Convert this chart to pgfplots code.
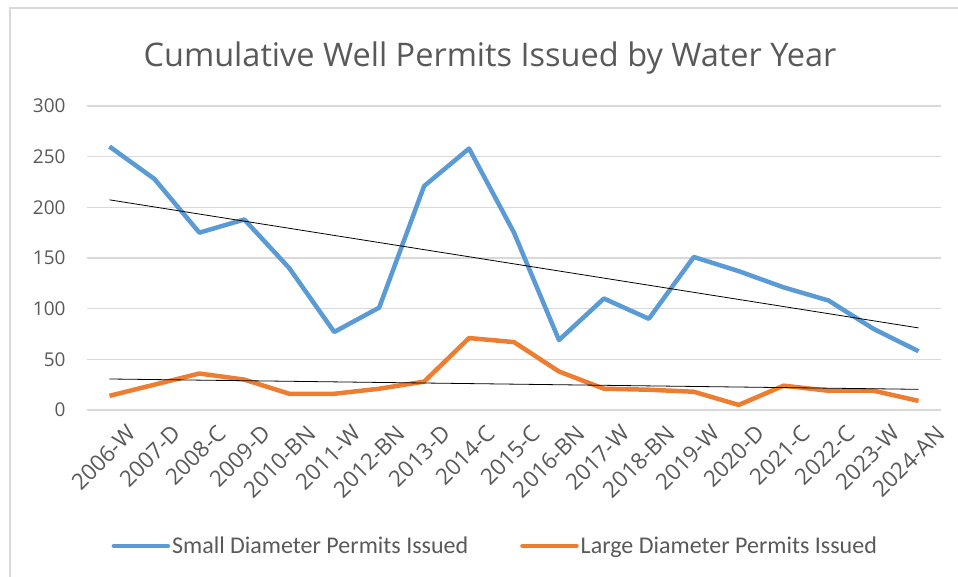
\documentclass[border=0pt]{standalone}
\usepackage{pgfplots}
\pgfplotsset{compat=1.18}
\usepackage{fontspec}
\setmainfont{Open Sans}
\newfontfamily\carlito{Carlito}
\definecolor{sblue}{HTML}{5B9BD5}
\definecolor{sorange}{HTML}{ED7D31}
\definecolor{gridgray}{HTML}{D9D9D9}
\definecolor{txtgray}{HTML}{595959}
\begin{document}
\begin{tikzpicture}[x=1bp,y=1bp]
\path[use as bounding box] (-87,-167) rectangle (871,410);
\draw[gridgray, line width=1.5bp] (-77,402) rectangle (890,-190);
\node[txtgray, font=\fontsize{32.5bp}{38bp}\selectfont] at (403,352) {Cumulative Well Permits Issued by Water Year};
\begin{axis}[
  at={(0,0)}, anchor=south west,
  scale only axis, width=854bp, height=304bp,
  xmin=-0.5, xmax=18.5, ymin=0, ymax=300,
  axis x line*=bottom, axis y line*=left,
  axis line style={draw=none},
  ymajorgrids, grid style={gridgray, line width=1.5bp},
  ytick={0,50,...,300},
  xtick={0,...,18},
  xticklabels={2006-W,2007-D,2008-C,2009-D,2010-BN,2011-W,2012-BN,2013-D,2014-C,2015-C,2016-BN,2017-W,2018-BN,2019-W,2020-D,2021-C,2022-C,2023-W,2024-AN},
  major tick length=0pt,
  /pgf/number format/assume math mode=true,
  yticklabel style={txtgray, font=\fontsize{19bp}{22bp}\selectfont, anchor=east, xshift=-18bp},
  xticklabel style={txtgray, font=\fontsize{22.5bp}{26bp}\selectfont, rotate=45, anchor=north east, inner sep=1bp, xshift=3bp, yshift=-20bp},
  legend style={at={(0.478,-0.447)}, anchor=center, draw=none, fill=none,
    legend columns=2, font=\carlito\fontsize{24bp}{28bp}\selectfont, text=txtgray,
    /tikz/every even column/.append style={column sep=50bp},
    inner sep=0pt, row sep=0pt},
  legend image code/.code={\draw[#1, line width=4.5bp, line cap=round] (0bp,0bp) -- (54bp,0bp);},
]
\addplot[sblue, line width=4.5bp, line join=round] coordinates {
(0,260)(1,228)(2,175)(3,188)(4,140)(5,77)(6,101)(7,221)(8,258)(9,175)(10,69)(11,110)(12,90)(13,151)(14,137)(15,121)(16,108)(17,80)(18,58)};
\addlegendentry{Small Diameter Permits Issued}
\addplot[sorange, line width=4.5bp, line join=round] coordinates {
(0,14)(1,25)(2,36)(3,30)(4,16)(5,16)(6,21)(7,28)(8,71)(9,67)(10,38)(11,21)(12,20)(13,18)(14,5)(15,24)(16,19)(17,19)(18,9)};
\addlegendentry{Large Diameter Permits Issued}
\addplot[black, line width=0.8bp, forget plot] coordinates {(0,207.4)(18,81)};
\addplot[black, line width=0.8bp, forget plot] coordinates {(0,30.6)(18,20.4)};
\end{axis}
\end{tikzpicture}
\end{document}
